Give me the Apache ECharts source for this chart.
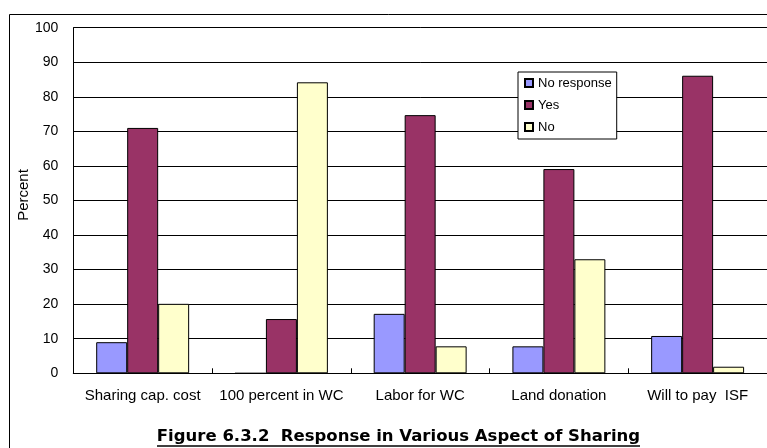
<!DOCTYPE html>
<html><head><meta charset="utf-8">
<script src="https://cdn.jsdelivr.net/npm/echarts@6/dist/echarts.min.js"></script>
<style>html,body{margin:0;padding:0;background:#fff}#c{width:767px;height:448px}</style>
</head><body><div id="c"></div>
<script>
const categories = ["Sharing cap. cost", "100 percent in WC", "Labor for WC", "Land donation", "Will to pay  ISF"];
const noResponse = [9, 0, 17.2, 7.8, 10.8];
const yes = [71, 15.7, 74.7, 59.1, 86.1];
const no = [20.1, 84.2, 7.8, 33, 1.9];
const yTicks = [0, 10, 20, 30, 40, 50, 60, 70, 80, 90, 100];
const seriesNames = ["No response", "Yes", "No"];
const colors = ["#9999FF", "#993366", "#FFFFCC"];
const titleText = "Figure 6.3.2  Response in Various Aspect of Sharing";

const chart = echarts.init(document.getElementById('c'));
const font = "'Liberation Sans', Arial, sans-serif";
const data = [noResponse, yes, no];
chart.setOption({
  animation: false,
  grid: {left: 73.3, top: 27.7, bottom: 74.7, right: -4, containLabel: false},
  legend: {
    data: seriesNames, orient: 'vertical', left: 518, top: 72,
    itemWidth: 8, itemHeight: 8, itemGap: 8,
    padding: [4, 5, 5, 6],
    backgroundColor: '#fff', borderColor: '#000', borderWidth: 1,
    textStyle: {fontFamily: font, fontSize: 13, color: '#000', lineHeight: 14},
    icon: 'rect'
  },
  xAxis: {
    type: 'category', data: categories,
    axisLine: {lineStyle: {color: '#000', width: 1}},
    axisTick: {show: true, inside: true, length: 5, lineStyle: {color: '#000'}},
    axisLabel: {fontFamily: font, fontSize: 15, color: '#000', margin: 15, interval: 0}
  },
  yAxis: {
    type: 'value', min: 0, max: 100, interval: 10,
    name: 'Percent', nameLocation: 'middle', nameGap: 42, nameRotate: 90,
    nameMoveOverlap: false,
    nameTextStyle: {fontFamily: font, fontSize: 15, color: '#000', padding: [0, 0, 0, 11]},
    axisLine: {show: true, lineStyle: {color: '#000', width: 1}},
    axisTick: {show: false},
    axisLabel: {fontFamily: font, fontSize: 14, color: '#000', margin: 15,
      formatter: v => yTicks.includes(v) ? String(v) : ''},
    splitLine: {lineStyle: {color: '#000', width: 1}}
  },
  series: seriesNames.map((n, i) => ({
    name: n, type: 'bar', data: data[i],
    barGap: '0%', barCategoryGap: '33%',
    itemStyle: {color: colors[i], borderColor: '#000', borderWidth: 1}
  })),
  graphic: [
    {type: 'rect', left: 7, top: 12, shape: {width: 800, height: 500}, silent: true, z: -10,
      style: {fill: 'none', stroke: '#000', lineWidth: 1}},
    {type: 'text', x: 398.5, y: 436.5, silent: true,
      style: {text: titleText, fontFamily: "'DejaVu Sans', sans-serif", fontSize: 16.5, fontWeight: 'bold', fill: '#000',
        textAlign: 'center', textVerticalAlign: 'middle'}},
    {type: 'line', silent: true, shape: {x1: 157, y1: 446, x2: 640, y2: 446},
      style: {stroke: '#000', lineWidth: 1.5}}
  ]
});
</script></body></html>
